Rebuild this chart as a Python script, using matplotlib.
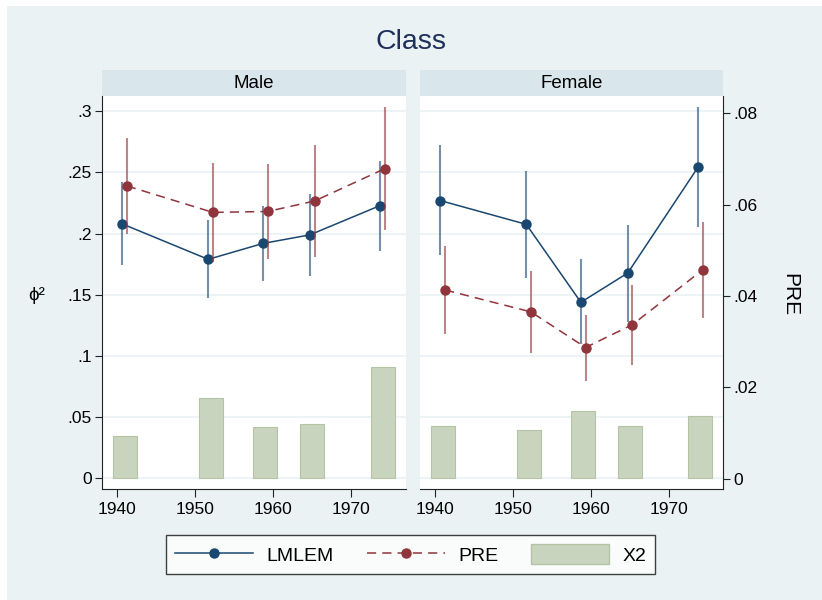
import matplotlib
matplotlib.use("Agg")
import matplotlib.pyplot as plt
from matplotlib.patches import Rectangle, Patch
from matplotlib.lines import Line2D

plt.rcParams['font.family'] = ['Liberation Sans', 'DejaVu Sans']

years = [1941, 1952, 1959, 1965, 1974]
panels = ["Male", "Female"]

male_lmlem = [0.208, 0.179, 0.192, 0.199, 0.223]
male_lmlem_lo = [0.174, 0.147, 0.161, 0.165, 0.186]
male_lmlem_hi = [0.242, 0.211, 0.223, 0.232, 0.259]
male_pre = [0.0641, 0.0583, 0.0585, 0.0608, 0.0679]
male_pre_lo = [0.0535, 0.0475, 0.0481, 0.0486, 0.0544]
male_pre_hi = [0.0745, 0.0692, 0.0689, 0.0730, 0.0813]
male_x2 = [0.0346, 0.0654, 0.0417, 0.0444, 0.091]

female_lmlem = [0.227, 0.2076, 0.1439, 0.1678, 0.2542]
female_lmlem_lo = [0.1825, 0.1637, 0.110, 0.128, 0.2052]
female_lmlem_hi = [0.2722, 0.2515, 0.1793, 0.2073, 0.3033]
female_pre = [0.0413, 0.0365, 0.0287, 0.0337, 0.0457]
female_pre_lo = [0.0316, 0.0275, 0.0214, 0.0248, 0.0352]
female_pre_hi = [0.0509, 0.0454, 0.0359, 0.0425, 0.0562]
female_x2 = [0.0425, 0.0395, 0.0548, 0.0425, 0.0512]

phi_ticks = [0, 0.05, 0.1, 0.15, 0.2, 0.25, 0.3]
phi_labels = ["0", ".05", ".1", ".15", ".2", ".25", ".3"]
pre_ticks = [0, 0.02, 0.04, 0.06, 0.08]
pre_labels = ["0", ".02", ".04", ".06", ".08"]
x_ticks = [1940, 1950, 1960, 1970]

BG = "#eaf2f3"
STRIP = "#d9e6eb"
BLUE = "#1a476f"
RED = "#90353b"
BAR = "#c9d4bf"
BAR_EDGE = "#b4c3a4"
SPINE = "#222222"

data = {
    "Male": (male_lmlem, male_lmlem_lo, male_lmlem_hi, male_pre, male_pre_lo, male_pre_hi, male_x2),
    "Female": (female_lmlem, female_lmlem_lo, female_lmlem_hi, female_pre, female_pre_lo, female_pre_hi, female_x2),
}

W, H = 822, 600
fig = plt.figure(figsize=(W / 100, H / 100), dpi=100, facecolor="white")
fig.patches.append(Rectangle((7 / W, 0), 1, (H - 6) / H, transform=fig.transFigure,
                             facecolor=BG, edgecolor="none", zorder=-10))

fig.text(411 / W, 1 - 42 / H, "Class", ha="center", va="center", fontsize=20.5, color="#1f2f5c")

# panel geometry in pixels (left, right)
panel_x = [(101.7, 405.7), (420, 723.3)]
top, bottom = 96, 489

for i, name in enumerate(panels):
    lm, lm_lo, lm_hi, pre, pre_lo, pre_hi, x2 = data[name]
    x0, x1 = panel_x[i]
    ax = fig.add_axes([x0 / W, 1 - bottom / H, (x1 - x0) / W, (bottom - top) / H])
    ax.set_facecolor("white")
    # strip
    fig.patches.append(Rectangle((x0 / W, 1 - top / H), (x1 - x0) / W, 26 / H,
                                 transform=fig.transFigure, facecolor=STRIP, edgecolor="none", zorder=-5))
    fig.text((x0 + x1) / 2 / W, 1 - 83 / H, name, ha="center", va="center", fontsize=13.5)

    ax.set_xlim(1938.08, 1976.95)
    ax.set_ylim(-0.0087, 0.3125)
    ax.set_yticks(phi_ticks)
    ax.set_xticks(x_ticks)
    ax.set_xticklabels([str(t) for t in x_ticks], fontsize=12.5)
    for t in phi_ticks:
        ax.axhline(t, color=BG, lw=1.2, zorder=0)

    ax.bar(years, x2, width=3.07, color=BAR, edgecolor=BAR_EDGE, lw=0.8, zorder=1)

    xl = [y - 0.3 for y in years]
    ax.vlines(xl, lm_lo, lm_hi, color=BLUE, alpha=0.6, lw=1.5, zorder=2)
    ax.plot(xl, lm, color=BLUE, lw=1.1, marker="o", ms=6.5, zorder=4)

    ax2 = ax.twinx()
    ax2.set_ylim(-0.0023, 0.0838)
    xr = [y + 0.3 for y in years]
    ax2.vlines(xr, pre_lo, pre_hi, color=RED, alpha=0.6, lw=1.5, zorder=2)
    ax2.plot(xr, pre, color=RED, lw=1.1, ls=(0, (6, 4)), marker="o", ms=6.5, zorder=4)

    for s in ax.spines.values():
        s.set_visible(False)
    for s in ax2.spines.values():
        s.set_visible(False)
    ax.spines["bottom"].set_visible(True)
    ax.spines["bottom"].set_color(SPINE)
    ax.tick_params(axis="x", length=6, color=SPINE, pad=3)

    if i == 0:
        ax.spines["left"].set_visible(True)
        ax.spines["left"].set_color(SPINE)
        ax.set_yticklabels(phi_labels, fontsize=12.5)
        ax.tick_params(axis="y", length=5, color=SPINE, pad=2)
        ax2.set_yticks([])
    else:
        ax.tick_params(axis="y", left=False, labelleft=False)
        ax2.spines["right"].set_visible(True)
        ax2.spines["right"].set_color(SPINE)
        ax2.set_yticks(pre_ticks)
        ax2.set_yticklabels(pre_labels, fontsize=12.5)
        ax2.tick_params(axis="y", length=5, color=SPINE, pad=2)

fig.text(37 / W, 1 - 295 / H, "ϕ²", ha="center", va="center", fontsize=13.5)
fig.text(790 / W, 1 - 295 / H, "PRE", ha="center", va="center", fontsize=15, rotation=270)

handles = [
    Line2D([], [], color=BLUE, lw=1.1, marker="o", ms=6.5),
    Line2D([], [], color=RED, lw=1.1, ls=(0, (6, 4)), marker="o", ms=6.5),
    Patch(facecolor=BAR, edgecolor=BAR_EDGE),
]
leg = fig.legend(handles, ["LMLEM", "PRE", "X2"], loc="center", bbox_to_anchor=(410.8 / W, 1 - 554.5 / H),
                 ncol=3, fontsize=14, frameon=True, fancybox=False, handlelength=4, handleheight=1.2,
                 columnspacing=1.7, handletextpad=0.7, borderpad=0.45, borderaxespad=0)
leg.get_frame().set_edgecolor("#111111")
leg.get_frame().set_linewidth(1)

fig.savefig("out.png", dpi=100, facecolor=fig.get_facecolor())
